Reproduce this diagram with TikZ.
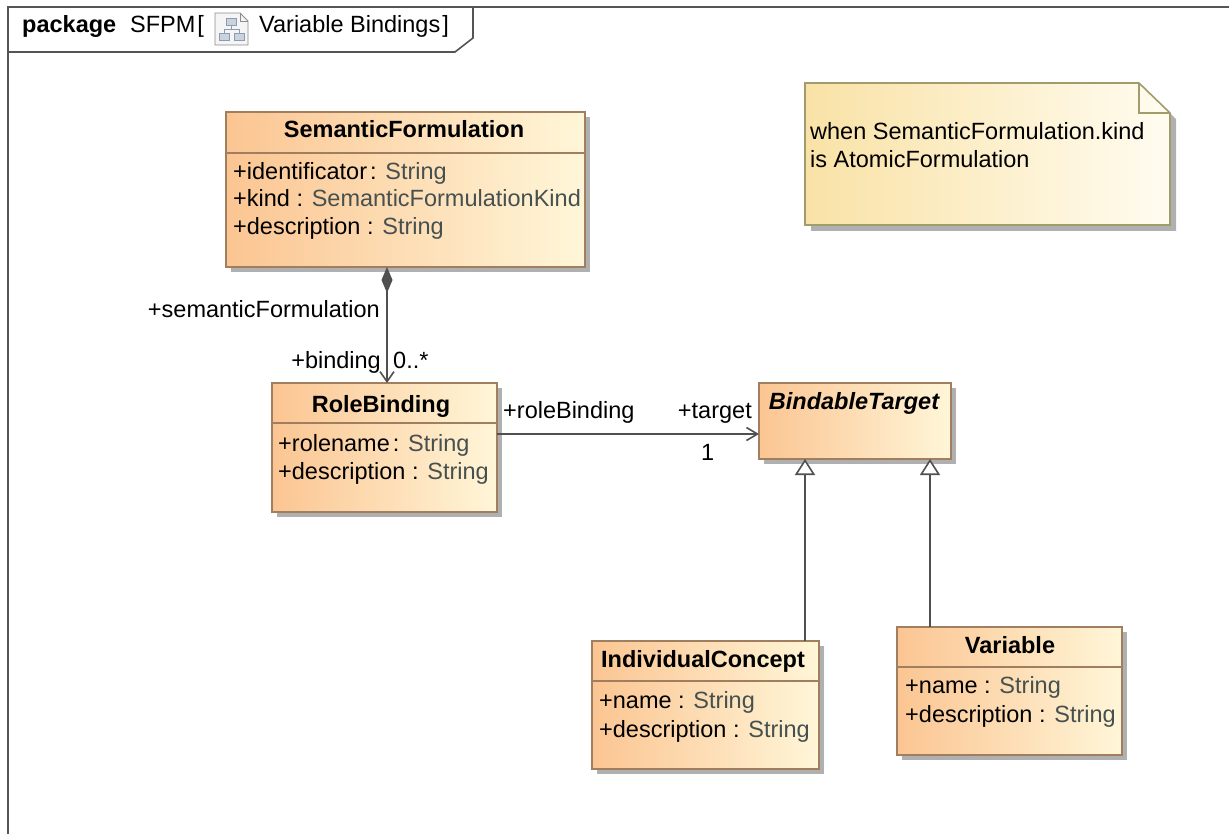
\documentclass[tikz,border=0pt]{standalone}
\usepackage{fontspec}
\setmainfont{Liberation Sans}
\usetikzlibrary{arrows.meta,shadows}
\definecolor{clsA}{HTML}{FBC592}
\definecolor{clsB}{HTML}{FFF6D8}
\definecolor{clsLine}{HTML}{A07E60}
\definecolor{noteA}{HTML}{F9E2A6}
\definecolor{noteB}{HTML}{FFFCF0}
\definecolor{noteLine}{HTML}{A29C6C}
\definecolor{connc}{HTML}{505050}
\definecolor{typec}{HTML}{46504F}
\definecolor{framec}{HTML}{555555}
\definecolor{shadowc}{HTML}{B0B0B0}
\definecolor{iconc}{HTML}{8A9BB3}
\newcommand\dgfont{\fontsize{23.5}{28}\selectfont}
\newcommand\attrtype[1]{\textcolor{typec}{#1}}
\begin{document}
\begin{tikzpicture}[x=1pt,y=-1pt,
  clsbox/.style={draw=clsLine, line width=1.6pt, left color=clsA, right color=clsB,
    inner sep=0pt, outer sep=0pt, anchor=north west,
    general shadow={fill=shadowc, shadow xshift=5pt, shadow yshift=-5pt}},
  divl/.style={draw=clsLine, line width=1.4pt},
  ttl/.style={anchor=base, inner sep=0pt, font=\dgfont\bfseries},
  attr/.style={anchor=base west, inner sep=0pt, font=\dgfont},
  lbl/.style={inner sep=0pt, font=\dgfont},
  conn/.style={draw=connc, line width=1.8pt},
  openarr/.style={-{Straight Barb[length=11pt,width=13pt,line width=1.6pt]}},
  genarr/.style={-{Triangle[length=16pt,width=20pt,fill=white,line width=1.6pt]}},
  framel/.style={draw=framec, line width=1.6pt}]
\useasboundingbox (0,0) rectangle (1229,834);
\fill[white] (0,0) rectangle (1229,834);

% frame and tab
\draw[framel] (8,834) -- (8,7) -- (1229,7);
\draw[framel] (8,52) -- (455,52) -- (473,38) -- (473,7);
\node[lbl, anchor=base west, font=\dgfont\bfseries] (pkg) at (22,33) {package};
\node[lbl, anchor=base west] (pkgname) at (130,33) {SFPM\hspace{2pt}[};
\node[lbl, anchor=base west] (diagname) at (259,33) {Variable Bindings\hspace{2pt}]};
% diagram icon
\draw[draw=black!45, fill=black!4, line width=0.9pt] (215,13) -- (240,13) -- (248,21) -- (248,45) -- (215,45) -- cycle;
\draw[draw=black!45, line width=0.8pt] (240,13) -- (240,21) -- (248,21);
\draw[draw=iconc, fill=iconc!45, line width=0.8pt] (226,18) rectangle (236,25);
\draw[draw=iconc, line width=0.8pt] (231,25) -- (231,29) (224,29) -- (239,29) (224,29) -- (224,33) (239,29) -- (239,33);
\draw[draw=iconc, fill=iconc!45, line width=0.8pt] (219,33) rectangle (229,40);
\draw[draw=iconc, fill=iconc!45, line width=0.8pt] (234,33) rectangle (244,40);

% note
\fill[shadowc] (811,89) -- (1145,89) -- (1176,119) -- (1176,231) -- (811,231) -- cycle;
\shade[left color=noteA, right color=noteB, draw=noteLine, line width=1.6pt]
  (805,83) -- (1139,83) -- (1170,113) -- (1170,225) -- (805,225) -- cycle;
\draw[draw=noteLine, line width=1.4pt] (1139,83) -- (1139,113) -- (1170,113);
\node[attr] (note1) at (810,140) {when SemanticFormulation.kind};
\node[attr] (note2) at (810,168) {is AtomicFormulation};

% SemanticFormulation
\node[clsbox, minimum width=359pt, minimum height=155pt] (sf) at (226,112) {};
\draw[divl] ([yshift=-41pt]sf.north west) -- ([yshift=-41pt]sf.north east);
\node[ttl] (sft) at (404,138) {SemanticFormulation};
\node[attr] (sfa1) at (233,180) {+identificator\hspace{3pt}: \attrtype{String}};
\node[attr] (sfa2) at (233,207) {+kind : \attrtype{SemanticFormulationKind}};
\node[attr] (sfa3) at (233,235) {+description : \attrtype{String}};

% RoleBinding
\node[clsbox, minimum width=225pt, minimum height=129pt] (rb) at (272,383) {};
\draw[divl] ([yshift=-40pt]rb.north west) -- ([yshift=-40pt]rb.north east);
\node[ttl] (rbt) at (381,412) {RoleBinding};
\node[attr] (rba1) at (278,451) {+rolename\hspace{3pt}: \attrtype{String}};
\node[attr] (rba2) at (278,479) {+description : \attrtype{String}};

% BindableTarget
\node[clsbox, minimum width=192pt, minimum height=76pt] (bt) at (759,383) {};
\node[ttl, font=\dgfont\bfseries\itshape] (btt) at (854,409) {BindableTarget};

% IndividualConcept
\node[clsbox, minimum width=227pt, minimum height=128pt] (ic) at (592,641) {};
\draw[divl] ([yshift=-40pt]ic.north west) -- ([yshift=-40pt]ic.north east);
\node[ttl] (ict) at (703,667) {IndividualConcept};
\node[attr] (ica1) at (599,708) {+name : \attrtype{String}};
\node[attr] (ica2) at (599,737) {+description : \attrtype{String}};

% Variable
\node[clsbox, minimum width=225pt, minimum height=128pt] (var) at (897,627) {};
\draw[divl] ([yshift=-40pt]var.north west) -- ([yshift=-40pt]var.north east);
\node[ttl] (vart) at (1010,653) {Variable};
\node[attr] (vara1) at (905,693) {+name : \attrtype{String}};
\node[attr] (vara2) at (905,722) {+description : \attrtype{String}};

% connector guide coordinates
\coordinate (compx) at (387,0);
\coordinate (assocy) at (0,434);
\coordinate (gen1x) at (805,0);
\coordinate (gen2x) at (930,0);

% composition
\draw[conn, {Diamond[length=26pt,width=11pt,fill=connc]}-{Straight Barb[length=10pt,width=14pt,line width=1.6pt]}]
  (sf.south -| compx) -- (rb.north -| compx);
\node[lbl, anchor=base east] (l1) at (380,318) {+semanticFormulation};
\node[lbl, anchor=base east] (l2) at (381,368) {+binding};
\node[lbl, anchor=base west] (l3) at (393,368) {0..*};

% association
\draw[conn, openarr] (rb.east |- assocy) -- (bt.west |- assocy);
\node[lbl, anchor=base west] (l4) at (503,418) {+roleBinding};
\node[lbl, anchor=base east] (l5) at (752,418) {+target};
\node[lbl, anchor=base west] (l6) at (701,460) {1};

% generalizations
\draw[conn, genarr] (ic.north -| gen1x) -- (bt.south -| gen1x);
\draw[conn, genarr] (var.north -| gen2x) -- (bt.south -| gen2x);
\end{tikzpicture}
\end{document}
